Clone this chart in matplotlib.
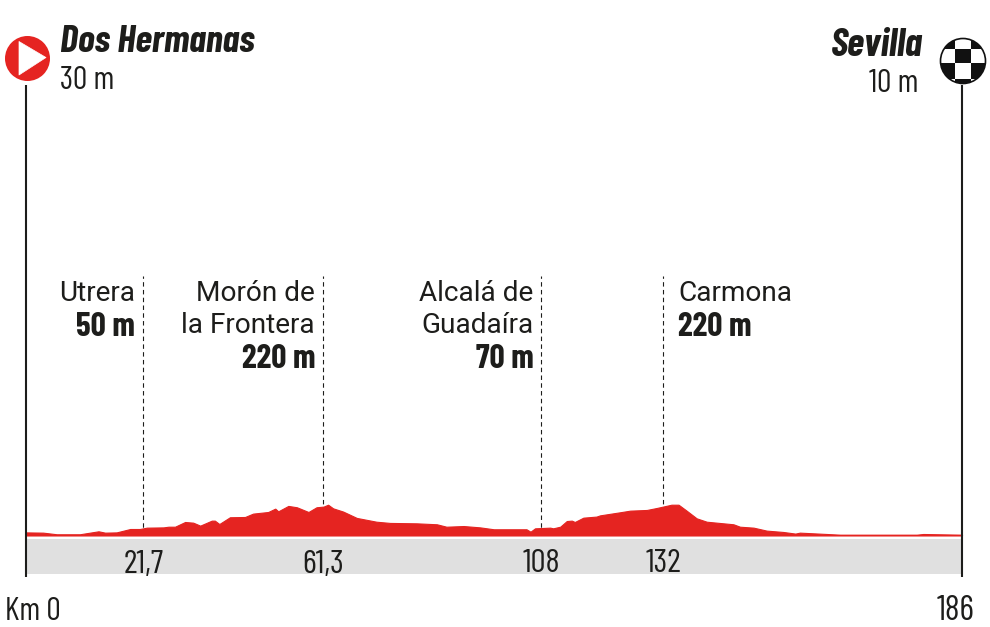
import matplotlib
matplotlib.use("Agg")
import matplotlib.pyplot as plt
from matplotlib.patches import Circle, Polygon, Rectangle

km = [0, 3.5, 6.2, 10.8, 14.5, 15.8, 18.1, 20.8, 22.7, 24.1, 27.4, 28.4, 29.7, 31.7, 33.3, 34.7,
      37.0, 37.6, 38.5, 40.6, 43.6, 45.2, 48.2, 49.6, 50.2, 52.2, 53.9, 56.2, 57.8, 59.2, 60.1,
      61.1, 63.1, 65.8, 69.7, 72.4, 77.7, 81.7, 83.6, 87.0, 90.3, 93.0, 99.5, 100.3, 101.2,
      104.2, 104.8, 106.2, 107.5, 108.5, 109.1, 110.8, 113.4, 114.1, 118.1, 120.1, 123.4, 125.4,
      128.3, 129.7, 131.3, 133.3, 135.3, 140.6, 141.9, 144.6, 147.2, 150.5, 152.9, 153.8, 156.5,
      161.8, 177.0, 178.3, 186]
elev = [23, 21, 9, 9, 31, 21, 23, 48, 48, 58, 60, 65, 65, 100, 95, 73,
        110, 110, 85, 135, 137, 162, 174, 199, 179, 219, 209, 174, 209, 214, 228,
        201, 177, 130, 102, 93, 90, 83, 65, 70, 60, 46, 46, 28, 53,
        58, 53, 65, 107, 110, 100, 132, 140, 149, 172, 184, 189, 204,
        228, 228, 184, 127, 102, 83, 65, 58, 36, 26, 14, 21, 16,
        6, 6, 11, 6]

town_pos = [23.3, 59.0, 102.4, 126.6]
town_tick = ["21,7", "61,3", "108", "132"]
town_name = ["Utrera", "Morón de\nla Frontera", "Alcalá de\nGuadaíra", "Carmona"]
town_alt = ["50 m", "220 m", "70 m", "220 m"]

RED = "#e52421"
INK = "#1d1d1b"
GREY = "#e0e0e0"
COND = ["Barlow Condensed", "Liberation Sans"]

fig = plt.figure(figsize=(9.9, 6.27), dpi=100)
ax = fig.add_axes([0, 0, 1, 1])
ax.set_xlim(-5.065, 191.56)
ax.set_ylim(-678, 3967)
ax.axis("off")

ax.fill_between(km, 0, elev, color=RED, lw=0.8, zorder=3)
ax.axhspan(-285, -26, xmin=25.5 / 990, xmax=962 / 990, color=GREY, lw=0, zorder=1)
for p in town_pos:
    ax.plot([p, p], [0, 1925], color=INK, lw=0.8, dashes=(4, 3), zorder=2)
for p in (0, 186):
    ax.plot([p, p], [-305, 3340], color=INK, lw=1.5, zorder=4, solid_capstyle="butt")

ov = fig.add_axes([0, 0, 1, 1], facecolor="none")
ov.set_xlim(0, 990)
ov.set_ylim(627, 0)
ov.axis("off")

ov.add_patch(Circle((27.5, 58.5), 22.5, fc=RED, ec="none"))
ov.add_patch(Polygon([(19, 41.5), (46, 57.5), (19, 75)], fc="white", ec="white", lw=0.5, joinstyle="round"))

cx, cy, r = 963, 61, 22.5
disc = Circle((cx, cy), r, fc="white", ec="none")
ov.add_patch(disc)
cols = [939, 955.3, 970.7, 987]
rows = [33, 49, 63.3, 79.3, 90]
for i in range(3):
    for j in range(4):
        if (i + j) % 2 == 0:
            s = Rectangle((cols[i], rows[j]), cols[i + 1] - cols[i], rows[j + 1] - rows[j], fc="#111111", ec="none")
            ov.add_patch(s)
            s.set_clip_path(disc)
ov.add_patch(Circle((cx, cy), r, fc="none", ec="#111111", lw=1.2))

ov.text(60, 52, "Dos Hermanas", fontfamily=COND, fontweight=700, fontstyle="italic", fontsize=27.8, color=INK, va="baseline")
ov.text(60, 89, "30 m", fontfamily=COND, fontsize=23, color=INK, va="baseline")
ov.text(923, 56, "Sevilla", fontfamily=COND, fontweight=700, fontstyle="italic", fontsize=28.5, color=INK, va="baseline", ha="right")
ov.text(918, 92, "10 m", fontfamily=COND, fontsize=23, color=INK, va="baseline", ha="right")

for i, p in enumerate(town_pos):
    px = 25.5 + p * 5.035
    right = i < 3
    tx = px - 7.5 if right else px + 15
    ha = "right" if right else "left"
    y = 301
    for ln in town_name[i].split("\n"):
        ov.text(tx, y, ln, fontfamily="Roboto", fontsize=20.2, color=INK, ha=ha, va="baseline")
        y += 32
    ov.text(tx, y + 3, town_alt[i], fontfamily=COND, fontweight=700, fontsize=24, color=INK, ha=ha, va="baseline")
    ov.text(px + 0.5, 572.5, town_tick[i], fontfamily=COND, fontsize=24, color=INK, ha="center", va="baseline")

ov.text(5, 620, "Km 0", fontfamily=COND, fontsize=23, color=INK, va="baseline")
ov.text(974, 620, "186", fontfamily=COND, fontsize=25, color=INK, va="baseline", ha="right")

fig.savefig("out.png", dpi=100)
